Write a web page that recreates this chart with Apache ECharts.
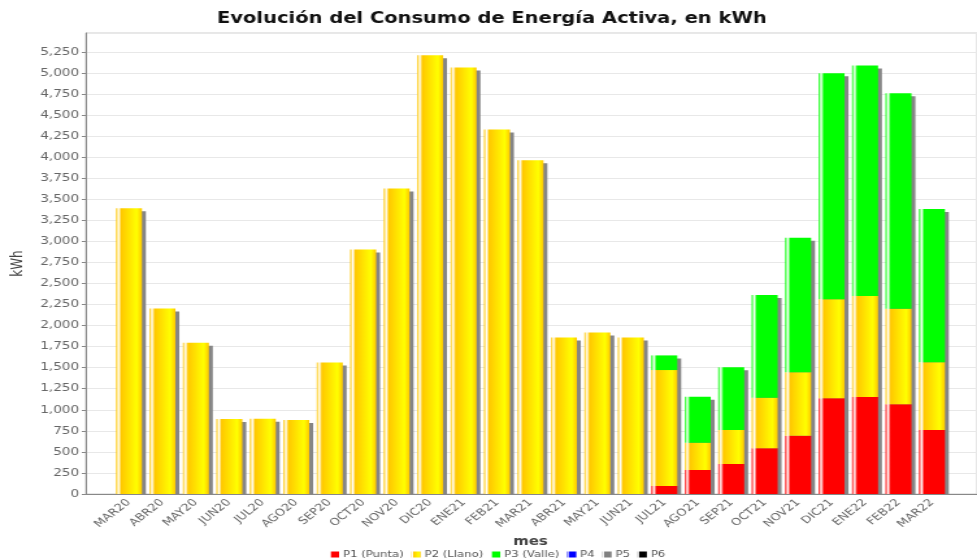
<!DOCTYPE html>
<html><head><meta charset="utf-8">
<script src="https://cdn.jsdelivr.net/npm/echarts@6/dist/echarts.min.js"></script>
<style>
html,body{margin:0;padding:0;background:#fff;overflow:hidden;}
#wrap{width:977px;height:560px;overflow:hidden;position:relative;}
#chart{width:752px;height:560px;transform:scaleX(1.2992);transform-origin:0 0;}
</style></head><body>
<div id="wrap"><div id="chart"></div></div>
<script>
// ---- data ----
const categories = ['MAR20','ABR20','MAY20','JUN20','JUL20','AGO20','SEP20','OCT20','NOV20','DIC20','ENE21','FEB21','MAR21','ABR21','MAY21','JUN21','JUL21','AGO21','SEP21','OCT21','NOV21','DIC21','ENE22','FEB22','MAR22'];
const p1Punta = [null,null,null,null,null,null,null,null,null,null,null,null,null,null,null,null,95,285,356,543,693,1136,1152,1065,760];
const p2Llano = [3395,2204,1796,890,895,878,1563,2904,3628,5211,5065,4329,3964,1860,1919,1860,1377,324,404,601,752,1176,1200,1136,804];
const p3Valle = [null,null,null,null,null,null,null,null,null,null,null,null,null,null,null,null,174,547,745,1220,1599,2685,2736,2558,1821];
const p4 = [];
const p5 = [];
const p6 = [];
const seriesNames = ['P1 (Punta)','P2 (Llano)','P3 (Valle)','P4','P5','P6'];
const yMin = 0, yMax = 5475, yStep = 250;
const chartTitle = 'Evolución del Consumo de Energía Activa, en kWh';

// ---- build ----
const FONT = 'DejaVu Sans';
const BAR_W = 20;
const totals = categories.map((c, i) => (p1Punta[i] || 0) + (p2Llano[i] || 0) + (p3Valle[i] || 0));

function grad(c0, c1) {
  return new echarts.graphic.LinearGradient(0, 0, 1, 0, [
    {offset: 0, color: c0},
    {offset: 0.1, color: '#ffffff'},
    {offset: 0.2, color: c0},
    {offset: 0.8, color: c1},
    {offset: 1, color: c0}
  ]);
}
const baseColors = ['#ff0000', '#ffc800', '#00ff00', '#0000ff', '#808080', '#000000'];
const brightColors = ['#ff0000', '#ffff00', '#00ff00', '#0000ff', '#808080', '#000000'];
const dataSets = [p1Punta, p2Llano, p3Valle, p4, p5, p6];

const barSeries = seriesNames.map((name, k) => ({
  name: name,
  type: 'bar',
  xAxisIndex: 1,
  yAxisIndex: 1,
  stack: 'total',
  barWidth: BAR_W,
  z: 3,
  color: baseColors[k],
  itemStyle: {color: grad(baseColors[k], brightColors[k])},
  emphasis: {disabled: true},
  data: dataSets[k]
}));

const shadowSeries = {
  type: 'custom',
  xAxisIndex: 1,
  yAxisIndex: 1,
  z: 2,
  silent: true,
  data: categories.map((c, i) => [i, totals[i]]),
  renderItem: function (params, api) {
    const top = api.coord([api.value(0), api.value(1)]);
    const base = api.coord([api.value(0), 0]);
    return {
      type: 'rect',
      shape: {x: top[0] - BAR_W / 2 + 3, y: top[1] + 3, width: BAR_W, height: base[1] - top[1] - 3},
      style: {fill: '#858585'}
    };
  }
};

const chart = echarts.init(document.getElementById('chart'), null, {renderer: 'canvas'});
chart.setOption({
  animation: false,
  backgroundColor: '#ffffff',
  textStyle: {fontFamily: FONT},
  title: {
    text: chartTitle,
    left: 167,
    top: 12,
    padding: 0,
    textStyle: {fontFamily: FONT, fontSize: 15, fontWeight: 'bold', color: '#111'}
  },
  legend: {
    data: seriesNames,
    bottom: 1,
    left: 254,
    icon: 'rect',
    itemWidth: 7,
    itemHeight: 6,
    itemGap: 6,
    padding: 0,
    selectedMode: false,
    textStyle: {fontFamily: FONT, fontSize: 9, color: '#555', padding: [0, 0, 0, -2]}
  },
  grid: [
    {left: 54, right: -10, top: 33, bottom: 66, show: true, borderColor: '#cfcfcf', borderWidth: 1, backgroundColor: '#fff'},
    {left: 86.4, right: 21.8, top: 33, bottom: 66}
  ],
  xAxis: [
    {gridIndex: 0, type: 'value', min: 0, max: 1, axisLine: {show: true, onZero: false, lineStyle: {color: '#888'}},
      axisTick: {show: false}, axisLabel: {show: false}, splitLine: {show: false}},
    {gridIndex: 1, type: 'category', data: categories,
      axisLine: {show: false}, axisTick: {show: false},
      axisLabel: {interval: 0, rotate: 45, fontSize: 10, color: '#666', margin: 7, fontFamily: FONT},
      name: 'mes', nameLocation: 'middle', nameGap: 41,
      nameTextStyle: {fontFamily: FONT, fontSize: 11.5, fontWeight: 'bold', color: '#444'}}
  ],
  yAxis: [
    {gridIndex: 0, type: 'value', min: yMin, max: yMax, interval: yStep,
      name: 'kWh', nameLocation: 'middle', nameGap: 41, nameRotate: 90,
      nameTextStyle: {fontFamily: FONT, fontSize: 12, color: '#444'},
      axisLine: {show: true, lineStyle: {color: '#888'}},
      axisTick: {show: true, length: 3, lineStyle: {color: '#888'}},
      axisLabel: {fontSize: 10.5, color: '#666', margin: 5, showMaxLabel: false, fontFamily: FONT,
        formatter: v => v.toLocaleString('en-US')},
      splitLine: {show: true, lineStyle: {color: '#e8e8e8', width: 1}}},
    {gridIndex: 1, type: 'value', min: yMin, max: yMax, interval: yStep, show: false, splitLine: {show: false}}
  ],
  series: [shadowSeries].concat(barSeries)
});
</script>
</body></html>
